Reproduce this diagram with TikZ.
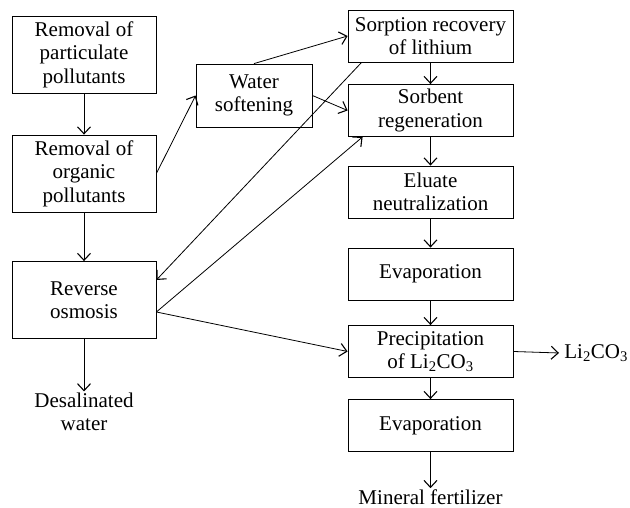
\documentclass[tikz,border=0pt]{standalone}
\usepackage{fontspec}
\setmainfont{Liberation Serif}
\usetikzlibrary{arrows.meta}
\begin{document}
\begin{tikzpicture}[x=1pt,y=1pt,font=\fontsize{21}{23.5}\selectfont,line width=0.8pt,
box/.style={draw,rectangle,align=center,inner sep=0pt,minimum width=#1},
box/.default=165pt,
lbl/.style={align=center,inner sep=1pt},
arr/.style={-{Straight Barb[length=7pt,width=13pt,line width=1.1pt]}}]
\useasboundingbox (0,0) rectangle (630,508);
\node[box=144pt,minimum height=77pt] (part) at (84,453.5) {Removal of\\particulate\\pollutants};
\node[box=144pt,minimum height=77pt] (org) at (84,334.5) {Removal of\\organic\\pollutants};
\node[box=144pt,minimum height=77pt] (ro) at (84,208) {Reverse\\osmosis};
\node[lbl] (desal) at (84,96) {Desalinated\\water};
\node[box=116pt,minimum height=63pt] (soft) at (254,412.5) {Water\\softening};
\node[box,minimum height=52pt] (sorp) at (430.5,472) {Sorption recovery\\of lithium};
\node[box,minimum height=52pt] (sorb) at (430.5,397.5) {Sorbent\\regeneration};
\node[box,minimum height=52pt] (elu) at (430.5,316) {Eluate\\neutralization};
\node[box,minimum height=52pt] (evA) at (430.5,234) {Evaporation};
\node[box,minimum height=52pt] (prec) at (430.5,156.5) {Precipitation\\of Li\textsubscript{2}CO\textsubscript{3}};
\node[box,minimum height=52pt] (evB) at (430.5,82.5) {Evaporation};
\node[lbl,anchor=south] (fert) at (430.5,2) {Mineral fertilizer};
\node[lbl,anchor=west] (li) at (563,155) {Li\textsubscript{2}CO\textsubscript{3}};
\draw[arr] (part) -- (org);
\draw[arr] (org) -- (ro);
\draw[arr] (ro) -- (desal);
\draw[arr] (org.east) -- (soft.west);
\draw[arr] (soft.north) -- (sorp.west);
\draw[arr] (soft.east) -- (sorb.west);
\draw[arr] ([xshift=14pt]sorp.south west) -- ([yshift=20pt]ro.east);
\draw[arr] ([yshift=-12pt]ro.east) -- ([xshift=15pt]sorb.south west);
\draw[arr] ([yshift=-12pt]ro.east) -- (prec.west);
\foreach \a/\b in {sorp/sorb,sorb/elu,elu/evA,evA/prec,prec/evB,evB/fert} {
   \draw[arr] (\a) -- (\b);
}
\draw[arr] (prec.east) -- ([xshift=-4pt]li.west);
\end{tikzpicture}
\end{document}
